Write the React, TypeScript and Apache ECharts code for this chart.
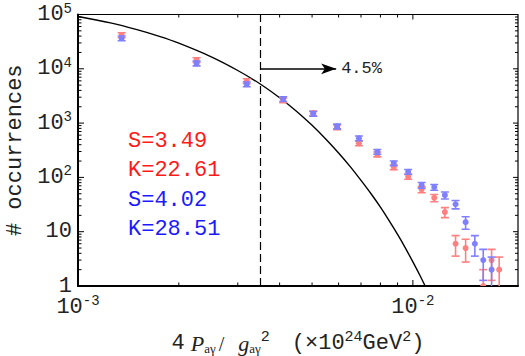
import React, { useEffect, useRef } from 'react';
import * as echarts from 'echarts';

// ---- data ----
const binX = [1.35e-3, 2.26e-3, 3.19e-3, 4.10e-3, 5.04e-3, 5.94e-3, 6.90e-3, 7.83e-3, 8.77e-3, 9.68e-3,
  1.062e-2, 1.158e-2, 1.246e-2, 1.341e-2, 1.437e-2, 1.531e-2, 1.622e-2, 1.718e-2, 1.81e-2];
const redY = [41900, 14500, 5960, 2650, 1520, 840, 425, 266, 153, 103, 60, 42, 23, 6, 5, null, 1, 3, 2];
const redErr = [4200, 1450, 600, 270, 150, 85, 43, 27, 15, 10.5, 7.7, 6.5, 4.8, 2.45, 2.24, null, 1, 1.73, 1.41];
const blueY = [36500, 12600, 5190, 2780, 1490, 870, 525, 297, 182, 127, 72, 66, 47, 32, 15, 6, 3, 2, null];
const blueErr = [3650, 1260, 520, 280, 150, 87, 52, 30, 18, 12.5, 8.5, 8.1, 6.9, 5.66, 3.87, 2.45, 1.73, 1.41, null];

const curveX = [1.0e-3, 1.25e-3, 1.5e-3, 1.75e-3, 2.0e-3, 2.5e-3, 3.0e-3, 3.5e-3, 4.0e-3, 4.5e-3, 5.0e-3,
  5.5e-3, 6.0e-3, 6.5e-3, 7.0e-3, 7.5e-3, 8.0e-3, 8.5e-3, 9.0e-3, 9.5e-3, 1.0e-2, 1.05e-2, 1.1e-2];
const curveY = [92000, 70000, 52500, 39500, 29600, 16600, 9300, 5250, 2930, 1640, 910,
  505, 282, 158, 88, 50, 28.3, 15.8, 8.9, 5.0, 2.78, 1.56, 0.87];

const xMajorTicks = [0.001, 0.01];
const xMinorTicks = [0.002, 0.003, 0.004, 0.005, 0.006, 0.007, 0.008, 0.009];
const yMajorTicks = [1, 10, 100, 1000, 10000, 100000];
const yMinorTicks = [2, 3, 4, 5, 6, 7, 8, 9, 20, 30, 40, 50, 60, 70, 80, 90, 200, 300, 400, 500, 600, 700, 800, 900,
  2000, 3000, 4000, 5000, 6000, 7000, 8000, 9000, 20000, 30000, 40000, 50000, 60000, 70000, 80000, 90000];

const X_MIN = 0.001;
const X_MAX = 0.0206;
const Y_MIN = 1;
const Y_MAX = 100000;

const cutX = 0.0035;
const arrowFrom = [0.0035, 10000];
const arrowTo = [0.0059, 10000];
const fracLabel = '4.5%';

const statLabels = ['S=3.49', 'K=22.61', 'S=4.02', 'K=28.51'];
const statColors = ['#ff1a1a', '#ff1a1a', '#1a1aff', '#1a1aff'];

const MONO = "'Liberation Mono', 'Courier New', monospace";
const SERIF = "'Liberation Serif', 'Times New Roman', serif";
const RED = '#ff8080';
const BLUE = '#8080ff';

function errSeries(name: string, ys: (number | null)[], es: (number | null)[], color: string, z: number) {
  const data: number[][] = [];
  binX.forEach((x, i) => {
    if (ys[i] != null) data.push([x, ys[i] as number, es[i] as number]);
  });
  return {
    type: 'custom',
    name,
    data,
    encode: { x: 0, y: 1 },
    clip: true,
    z,
    silent: true,
    renderItem: (params: any, api: any) => {
      const cs = params.coordSys;
      const x = api.value(0);
      const y = api.value(1);
      const e = api.value(2);
      const c = api.coord([x, y]);
      const top = api.coord([x, y + e])[1];
      const lo = y - e;
      const bot = lo > 0 ? api.coord([x, lo])[1] : cs.y + cs.height + 30;
      const hw = 4;
      const st = { stroke: color, lineWidth: 1.6 };
      const children: any[] = [
        { type: 'line', shape: { x1: c[0], y1: top, x2: c[0], y2: bot }, style: st },
        { type: 'line', shape: { x1: c[0] - hw, y1: top, x2: c[0] + hw, y2: top }, style: st },
      ];
      if (lo > 0) children.push({ type: 'line', shape: { x1: c[0] - hw, y1: bot, x2: c[0] + hw, y2: bot }, style: st });
      children.push({ type: 'circle', shape: { cx: c[0], cy: c[1], r: 3 }, style: { fill: color } });
      return { type: 'group', children };
    },
  };
}

function tickSeries(axis: 'x' | 'y') {
  const list: number[][] = [];
  if (axis === 'x') {
    xMajorTicks.forEach((v) => list.push([v, Y_MIN, 1]));
    xMinorTicks.forEach((v) => list.push([v, Y_MIN, 0]));
  } else {
    yMajorTicks.forEach((v) => list.push([X_MIN, v, 1]));
    yMinorTicks.forEach((v) => list.push([X_MIN, v, 0]));
  }
  return {
    type: 'custom',
    data: list,
    encode: { x: 0, y: 1 },
    silent: true,
    z: 6,
    renderItem: (params: any, api: any) => {
      const cs = params.coordSys;
      const major = api.value(2) === 1;
      const st = { stroke: '#000', lineWidth: 1 };
      if (axis === 'x') {
        const px = api.coord([api.value(0), Y_MIN])[0];
        const lb = major ? 6 : 3.5;
        const lt = major ? 5 : 3;
        const b = cs.y + cs.height;
        return {
          type: 'group',
          children: [
            { type: 'line', shape: { x1: px, y1: b, x2: px, y2: b - lb }, style: st },
            { type: 'line', shape: { x1: px, y1: cs.y, x2: px, y2: cs.y + lt }, style: st },
          ],
        };
      }
      const py = api.coord([X_MIN, api.value(1)])[1];
      const ll = major ? 6 : 3.5;
      const lr = major ? 5 : 3;
      const r = cs.x + cs.width;
      return {
        type: 'group',
        children: [
          { type: 'line', shape: { x1: cs.x, y1: py, x2: cs.x + ll, y2: py }, style: st },
          { type: 'line', shape: { x1: r, y1: py, x2: r - lr, y2: py }, style: st },
        ],
      };
    },
  };
}

export default function App() {
  const ref = useRef<HTMLDivElement>(null);
  useEffect(() => {
    if (!ref.current) return;
    const chart = echarts.init(ref.current, null, { renderer: 'svg' });
    const supStyle = { fontSize: 14, fontFamily: MONO, color: '#222', padding: [0, 0, 12, 0] };
    chart.setOption({
      animation: false,
      backgroundColor: '#fff',
      grid: {
        left: 78, top: 14.5, right: 7, bottom: 70,
        containLabel: false, outerBoundsMode: 'none',
        show: true, borderColor: '#000', borderWidth: 1.2, backgroundColor: 'transparent',
      },
      xAxis: {
        type: 'log',
        logBase: 10,
        min: X_MIN,
        max: X_MAX,
        axisLine: { show: true, onZero: false, lineStyle: { color: '#000', width: 2 } },
        axisTick: { show: false },
        splitLine: { show: false },
        axisLabel: {
          margin: 8,
          showMaxLabel: false,
          alignMinLabel: 'center',
          hideOverlap: false,
          fontSize: 22,
          fontFamily: MONO,
          color: '#222',
          formatter: (v: number) => {
            const e = Math.log10(v);
            const r = Math.round(e);
            if (Math.abs(e - r) > 1e-6) return '';
            return '10{sup|' + r + '}';
          },
          rich: { sup: supStyle },
        },
        name: '{m|4}{s1| }{it|P}{sub|aγ}{s2| }{op|/}{s3| }{it|g}{sub|aγ}{sup|2}{s4| }{m|(×10}{sup|24}{m|GeV}{sup|2}{m|)}',
        nameLocation: 'middle',
        nameGap: 44,
        nameTextStyle: {
          color: '#222',
          rich: {
            m: { fontSize: 22, fontFamily: MONO, color: '#222' },
            it: { fontSize: 22, fontFamily: SERIF, fontStyle: 'italic', color: '#222' },
            op: { fontSize: 20, fontFamily: SERIF, color: '#222' },
            sub: { fontSize: 13, fontFamily: SERIF, color: '#222', padding: [10, 0, 0, 0] },
            sup: { fontSize: 15, fontFamily: MONO, color: '#222', padding: [0, 0, 12, 0] },
            s1: { width: 6, fontSize: 10 },
            s2: { width: 3, fontSize: 10 },
            s3: { width: 14, fontSize: 10 },
            s4: { width: 22, fontSize: 10 },
          },
        },
      },
      yAxis: {
        type: 'log',
        logBase: 10,
        min: Y_MIN,
        max: Y_MAX,
        axisLine: { show: true, onZero: false, lineStyle: { color: '#000', width: 2 } },
        axisTick: { show: false },
        splitLine: { show: false },
        axisLabel: {
          margin: 6,
          fontSize: 22,
          fontFamily: MONO,
          color: '#222',
          formatter: (v: number) => {
            const r = Math.round(Math.log10(v));
            if (r === 0) return '1';
            if (r === 1) return '10';
            return '10{sup|' + r + '}';
          },
          rich: { sup: supStyle },
        },
        name: '# occurrences',
        nameLocation: 'middle',
        nameGap: 50,
        nameTextStyle: { fontSize: 22, fontFamily: MONO, color: '#222' },
      },
      graphic: statLabels.map((t, i) => ({
        type: 'text',
        x: 128,
        y: 141 + i * 29.5,
        silent: true,
        style: { text: t, fill: statColors[i], fontSize: 22, fontFamily: MONO, verticalAlign: 'middle' },
      })),
      series: [
        tickSeries('x'),
        tickSeries('y'),
        {
          type: 'line',
          data: curveX.map((x, i) => [x, curveY[i]]),
          showSymbol: false,
          smooth: 0.3,
          clip: true,
          silent: true,
          z: 3,
          lineStyle: { color: '#000', width: 1.4 },
          markLine: {
            silent: true,
            symbol: ['none', 'none'],
            label: { show: false },
            lineStyle: { color: '#000', width: 1.2, type: [8, 4] },
            data: [[{ coord: [cutX, Y_MIN] }, { coord: [cutX, Y_MAX] }]],
          },
        },
        {
          type: 'line',
          data: [arrowFrom],
          showSymbol: false,
          silent: true,
          lineStyle: { opacity: 0 },
          markLine: {
            silent: true,
            symbol: ['none', 'arrow'],
            symbolSize: [8, 15],
            lineStyle: { color: '#000', width: 1.5, type: 'solid' },
            label: { show: true, position: 'end', formatter: fracLabel, fontSize: 17, fontFamily: MONO, color: '#222', distance: 5 },
            data: [[{ coord: arrowFrom }, { coord: arrowTo }]],
          },
        },
        errSeries('red', redY, redErr, RED, 4),
        errSeries('blue', blueY, blueErr, BLUE, 5),
      ],
    });
    return () => chart.dispose();
  }, []);
  return <div ref={ref} style={{ position: 'fixed', left: 0, top: 0, width: 525, height: 356 }} />;
}
